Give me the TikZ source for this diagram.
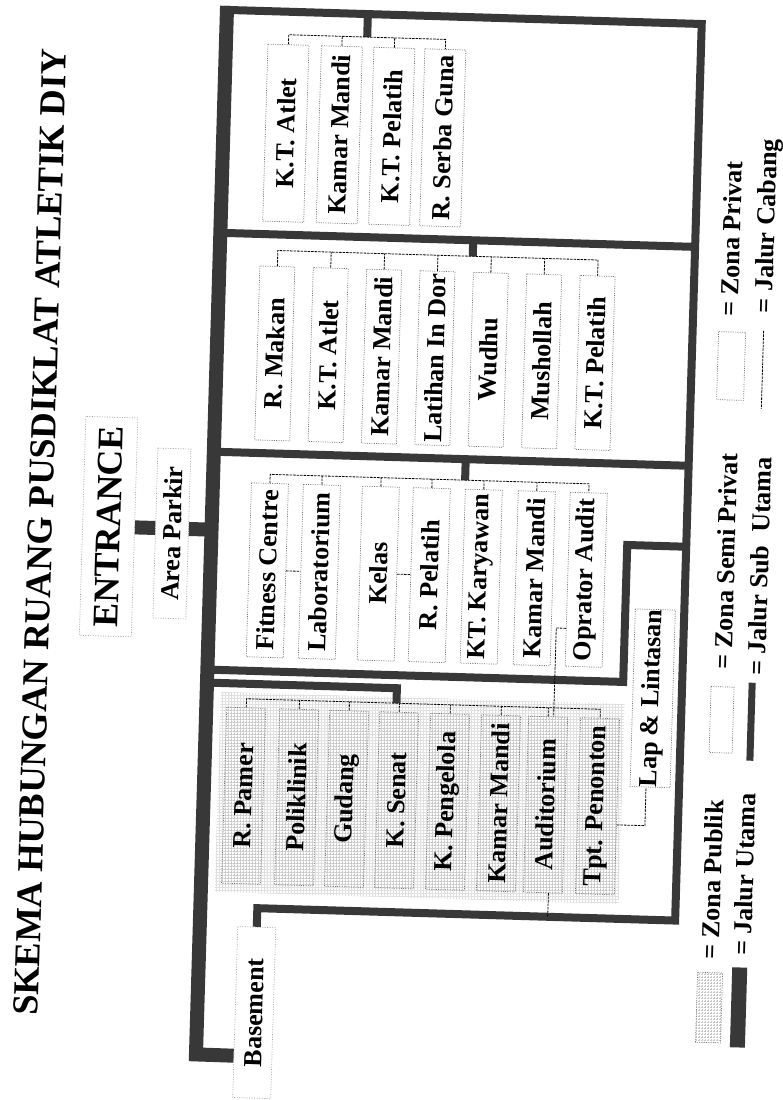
\documentclass[tikz,border=0pt]{standalone}
\usepackage{fontspec}
\setmainfont{Liberation Serif}
\usetikzlibrary{patterns,calc}
\newcommand{\fsz}[1]{\fontsize{#1}{#1}\selectfont\bfseries}
\begin{document}
\begin{tikzpicture}[x=1pt,y=-1pt,
  utama/.style={draw=black!78, line width=14pt, line join=miter},
  subutama/.style={draw=black!78, line width=8pt, line join=miter},
  cabang/.style={draw=black, line width=0.8pt, dash pattern=on 2.5pt off 1pt},
  dotbox/.style={draw=black!55, line width=0.7pt, dash pattern=on 1pt off 1.3pt},
  faintbox/.style={draw=black!35, line width=0.7pt, dash pattern=on 1pt off 1.5pt, fill=white, rotate=90, inner sep=0pt},
  room/.style={dotbox, fill=white, rotate=90, inner sep=0pt, font=\fsz{26}},
  pubroom/.style={dotbox, pattern=grid, pattern color=black!22, rotate=90, inner sep=0pt, font=\fsz{26}},
  legtext/.style={rotate=90, anchor=west, inner sep=0pt, font=\fsz{26}},
]
\useasboundingbox (0,0) rectangle (783,1100);
\fill[white] (0,0) rectangle (783,1100);
\begin{scope}[rotate around={-1.7:(391.5,550)}, transform shape]

% ---------- title, entrance ----------
\node[rotate=90, inner sep=0pt, font=\fsz{36.5}] (title) at (40,542.5) {SKEMA HUBUNGAN RUANG PUSDIKLAT ATLETIK DIY};
\node[faintbox, minimum width=219pt, minimum height=52pt, font=\fsz{36}] (ent) at (108,535) {ENTRANCE};
\node[faintbox, minimum width=170pt, minimum height=33pt, font=\fsz{26}] (park) at (171.5,540) {Area Parkir};

% ---------- public background ----------
\path[pattern=grid, pattern color=black!12] (225,697) rectangle (629,897);

% ---------- zone 1 (privat) ----------
\node[room, minimum width=177pt, minimum height=41pt] (z1a) at (273.5,136.5) {K.T. Atlet};
\node[room, minimum width=177pt, minimum height=41pt] (z1b) at (327,136.5) {Kamar Mandi};
\node[room, minimum width=177pt, minimum height=41pt] (z1c) at (379.5,136.5) {K.T. Pelatih};
\node[room, minimum width=177pt, minimum height=41pt] (z1d) at (430.5,136.5) {R.\ Serba Guna};

% ---------- zone 2 (privat) ----------
\node[room, minimum width=174pt, minimum height=35pt] (z2a) at (269,357) {R. Makan};
\node[room, minimum width=174pt, minimum height=35pt] (z2b) at (322.4,357) {K.T. Atlet};
\node[room, minimum width=174pt, minimum height=35pt] (z2c) at (375.8,357) {Kamar Mandi};
\node[room, minimum width=174pt, minimum height=35pt] (z2d) at (429.2,357) {Latihan In Dor};
\node[room, minimum width=174pt, minimum height=35pt] (z2e) at (482.6,357) {Wudhu};
\node[room, minimum width=174pt, minimum height=35pt] (z2f) at (536,357) {Mushollah};
\node[room, minimum width=174pt, minimum height=35pt] (z2g) at (589.4,357) {K.T. Pelatih};

% ---------- zone 3 (semi privat) ----------
\node[room, minimum width=174pt, minimum height=37pt] (z3a) at (268,574) {Fitness Centre};
\node[room, minimum width=174pt, minimum height=37pt] (z3b) at (320,574) {Laboratorium};
\node[room, minimum width=174pt, minimum height=37pt] (z3c) at (379,574) {Kelas};
\node[room, minimum width=174pt, minimum height=37pt] (z3d) at (430,574) {R. Pelatih};
\node[room, minimum width=174pt, minimum height=37pt] (z3e) at (482,574) {KT. Karyawan};
\node[room, minimum width=174pt, minimum height=37pt] (z3f) at (535,574) {Kamar Mandi};
\node[room, minimum width=174pt, minimum height=37pt] (z3g) at (587,574) {Oprator Audit};

% ---------- public zone ----------
\node[pubroom, minimum width=176pt, minimum height=39pt] (z4a) at (251,800) {R. Pamer};
\node[pubroom, minimum width=176pt, minimum height=39pt] (z4b) at (304,800) {Poliklinik};
\node[pubroom, minimum width=176pt, minimum height=39pt] (z4c) at (354,800) {Gudang};
\node[pubroom, minimum width=176pt, minimum height=39pt] (z4d) at (404,800) {K. Senat};
\node[pubroom, minimum width=176pt, minimum height=39pt] (z4e) at (455,800) {K. Pengelola};
\node[pubroom, minimum width=176pt, minimum height=39pt] (z4f) at (506,800) {Kamar Mandi};
\node[pubroom, minimum width=176pt, minimum height=39pt] (aud) at (553,800) {Auditorium};
\node[pubroom, minimum width=176pt, minimum height=39pt] (tpt) at (605,800) {Tpt. Penonton};

\node[room, minimum width=177pt, minimum height=40pt] (lap) at (657,690.5) {Lap \& Lintasan};
\node[faintbox, minimum width=171pt, minimum height=38pt, font=\fsz{26}] (bas) at (268,1016.5) {Basement};

% ---------- main paths (jalur utama) ----------
\draw[utama] (211,11) -- (211,1060) -- ($(bas.north)!0.509!(bas.north west)$);
\draw[utama] (ent.south) -- (ent.south -| park.north);
\draw[utama] (ent.south -| park.south) -- (211,535);

% ---------- jalur sub utama ----------
\draw[subutama] (bas.east) -- (268,912) -- (686,912) -- (686,15) -- (207,15);
\draw[subutama] (211,238) -- (686,238);
\draw[subutama] (211,457) -- (686,457);
\draw[subutama] (211,675) -- (627,675) -- (627,538) -- (686,538);
\draw[subutama] (211,688) -- (401,688) -- (401,703);
\draw[subutama] (352,15) -- (352,38);
\draw[subutama] (464,238) -- (464,254);
\draw[subutama] (463,457) -- (463,478);

% ---------- jalur cabang ----------
\draw[cabang] (z1a.east) -- (273.5,38) -- (430.5,38) -- (z1d.east);
\draw[cabang] (z1b.east) -- (327,38);
\draw[cabang] (z1c.east) -- (379.5,38);

\draw[cabang] (z2a.east) -- (269,254) -- (589.4,254) -- (z2g.east);
\draw[cabang] (z2b.east) -- (322.4,254);
\draw[cabang] (z2c.east) -- (375.8,254);
\draw[cabang] (z2d.east) -- (429.2,254);
\draw[cabang] (z2e.east) -- (482.6,254);
\draw[cabang] (z2f.east) -- (536,254);

\draw[cabang] (z3a.east) -- (268,478) -- (587,478) -- (z3g.east);
\draw[cabang] (z3b.east) -- (320,478);
\draw[cabang] (z3c.east) -- (379,478);
\draw[cabang] (z3d.east) -- (430,478);
\draw[cabang] (z3e.east) -- (482,478);
\draw[cabang] (z3f.east) -- (535,478);
\draw[cabang] (z3a.south) -- (z3b.north);
\draw[cabang] (z3c.south) -- (z3d.north);

\draw[cabang] (z4a.east) -- (251,703) -- (605,703) -- (tpt.east);
\draw[cabang] (z4b.east) -- (304,703);
\draw[cabang] (z4c.east) -- (354,703);
\draw[cabang] (z4d.east) -- (404,703);
\draw[cabang] (z4e.east) -- (455,703);
\draw[cabang] (z4f.east) -- (506,703);
\draw[cabang] (aud.east) -- (553,703);

\draw[cabang] ($(z3g.north)!0.563!(z3g.north west)$) -- (558.5,623) -- ($(aud.east)!0.28!(aud.south east)$);
\draw[cabang] ($(aud.west)!0.28!(aud.south west)$) -- (558.5,912);
\draw[cabang] ($(tpt.south)!0.205!(tpt.south west)$) -- (653,818) -- ($(lap.west)!0.2!(lap.north west)$);

% ---------- legend ----------
\node[dotbox, pattern=grid, pattern color=black!22, rotate=90, inner sep=0pt, minimum width=70pt, minimum height=25pt] (lzp) at (722.5,998) {};
\node[legtext] (lzpt) at (722,950) {= Zona Publik};
\node[dotbox, rotate=90, inner sep=0pt, minimum width=66pt, minimum height=23pt] (lzs) at (726.5,710) {};
\node[legtext] (lzst) at (726,660) {= Zona Semi Privat};
\node[dotbox, rotate=90, inner sep=0pt, minimum width=68pt, minimum height=27pt] (lzv) at (725.5,356) {};
\node[legtext] (lzvt) at (722,307) {= Zona Privat};

\coordinate (lju1) at (752,957); \coordinate (lju2) at (752,1037);
\draw[utama, line width=15pt] (lju1) -- (lju2);
\node[legtext] (ljut) at (754,945) {= Jalur Utama};
\coordinate (ljs1) at (756,672); \coordinate (ljs2) at (756,750);
\draw[subutama, line width=7pt] (ljs1) -- (ljs2);
\node[legtext] (ljst) at (760,665) {= Jalur Sub\ \ Utama};
\coordinate (ljc1) at (757,320); \coordinate (ljc2) at (757,398);
\draw[cabang] (ljc1) -- (ljc2);
\node[legtext] (ljct) at (759,302) {= Jalur Cabang};
\end{scope}
\end{tikzpicture}
\end{document}
